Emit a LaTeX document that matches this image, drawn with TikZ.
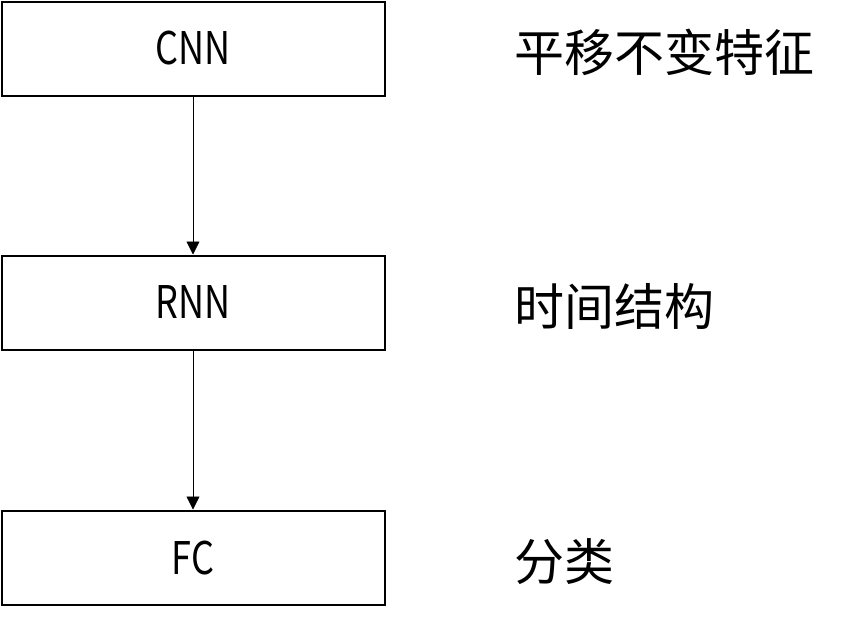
\documentclass[tikz,border=0pt]{standalone}
\usepackage{fontspec}
\setmainfont{Noto Sans CJK SC}
\usetikzlibrary{arrows.meta}
\newcommand{\narrowtext}[1]{\scalebox{0.8}[1]{#1}}
\tikzset{
  layerbox/.style={draw=black,line width=2pt,minimum width=383pt,minimum height=94pt,inner sep=0pt,font=\fontsize{45}{45}\selectfont},
  layernote/.style={anchor=west,inner sep=0pt,font=\fontsize{50}{50}\selectfont},
  flow/.style={line width=0.8pt,-{Triangle[length=13pt,width=13pt]}}
}
\begin{document}
\begin{tikzpicture}[x=1pt,y=1pt]
      \useasboundingbox (0,0) rectangle (843,-619);
      \node[layerbox] (cnn) at (193,-48.5) {\narrowtext{CNN}};
      \node[layernote] (cnnnote) at (514,-52) {平移不变特征};

      \node[layerbox] (rnn) at (193,-302.5) {\narrowtext{RNN}};
      \node[layernote] (rnnnote) at (514,-306) {时间结构};

      \node[layerbox] (fc) at (193,-557.5) {\narrowtext{FC}};
      \node[layernote] (fcnote) at (514,-562) {分类};

      \draw[flow] (cnn.south) -- (rnn.north);
      \draw[flow] (rnn.south) -- (fc.north);
    \end{tikzpicture}
\end{document}
